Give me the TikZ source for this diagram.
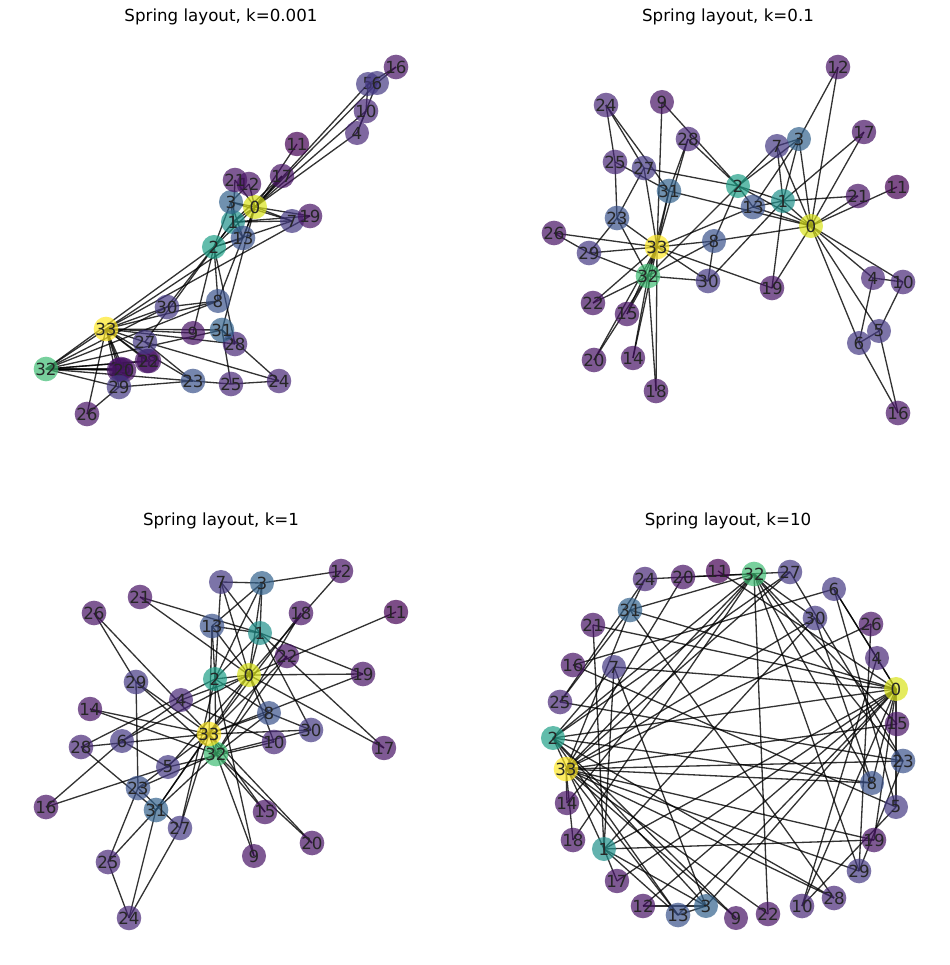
\documentclass[tikz,border=0pt]{standalone}
\usepackage{fontspec}
\setmainfont{DejaVu Sans}
\usepackage{tikz}
\usetikzlibrary{backgrounds}
\usepackage{xcolor}

% viridis shades, one per degree
\definecolor{vA}{HTML}{440154}
\definecolor{vB}{HTML}{471365}
\definecolor{vC}{HTML}{482878}
\definecolor{vD}{HTML}{443983}
\definecolor{vE}{HTML}{3B528B}
\definecolor{vF}{HTML}{33638D}
\definecolor{vG}{HTML}{21918C}
\definecolor{vH}{HTML}{1FA088}
\definecolor{vI}{HTML}{3FBC73}
\definecolor{vJ}{HTML}{D8E219}
\definecolor{vK}{HTML}{FDE725}

\colorlet{c0}{vJ}\colorlet{c1}{vG}\colorlet{c2}{vH}\colorlet{c3}{vF}
\colorlet{c4}{vC}\colorlet{c5}{vD}\colorlet{c6}{vD}\colorlet{c7}{vD}
\colorlet{c8}{vE}\colorlet{c9}{vB}\colorlet{c10}{vC}\colorlet{c11}{vA}
\colorlet{c12}{vB}\colorlet{c13}{vE}\colorlet{c14}{vB}\colorlet{c15}{vB}
\colorlet{c16}{vB}\colorlet{c17}{vB}\colorlet{c18}{vB}\colorlet{c19}{vB}
\colorlet{c20}{vB}\colorlet{c21}{vB}\colorlet{c22}{vB}\colorlet{c23}{vE}
\colorlet{c24}{vC}\colorlet{c25}{vC}\colorlet{c26}{vB}\colorlet{c27}{vD}
\colorlet{c28}{vC}\colorlet{c29}{vD}\colorlet{c30}{vD}\colorlet{c31}{vF}
\colorlet{c32}{vI}\colorlet{c33}{vK}

% karate club edges
\def\clubedges{0/1,0/2,0/3,0/4,0/5,0/6,0/7,0/8,0/10,0/11,0/12,0/13,0/17,0/19,0/21,0/31,
1/2,1/3,1/7,1/13,1/17,1/19,1/21,1/30,
2/3,2/7,2/8,2/9,2/13,2/27,2/28,2/32,
3/7,3/12,3/13,4/6,4/10,5/6,5/10,5/16,6/16,
8/30,8/32,8/33,9/33,13/33,14/32,14/33,15/32,15/33,18/32,18/33,19/33,
20/32,20/33,22/32,22/33,23/25,23/27,23/29,23/32,23/33,
24/25,24/27,24/31,25/31,26/29,26/33,27/33,28/31,28/33,
29/32,29/33,30/32,30/33,31/32,31/33,32/33}

\begin{document}
\begin{tikzpicture}[
  x=0.72pt, y=-0.72pt,
  % graph vertices
  vtx/.style={
    circle, draw=none, minimum size=17.3pt, inner sep=0pt,
    fill opacity=0.7, text opacity=1, text=black!85,
    font=\fontsize{12}{12}\selectfont
  },
  % graph edges
  edge/.style={line width=0.95pt, draw=black, draw opacity=0.8},
  % panel titles
  ptitle/.style={font=\fontsize{12}{14}\selectfont, inner sep=0pt}
]
\useasboundingbox (0,0) rectangle (950,965);

% === TITLES ===
\node[ptitle] (t1) at (221,17) {Spring layout, k=0.001};
\node[ptitle] (t2) at (728,17) {Spring layout, k=0.1};
\node[ptitle] (t3) at (221,521) {Spring layout, k=1};
\node[ptitle] (t4) at (728,521) {Spring layout, k=10};

% === k=0.001 ===
\foreach \i/\x/\y in {0/255/207,1/233/222,2/214/247,3/231/202,4/357/133,5/368/84,
  6/377/83,7/292/221,8/218/301,9/193/333,10/366/111,11/297/144,12/249/184,
  13/243/238,14/119/370,15/121/369,16/396/67,17/282/176,18/147/361,19/310/216,
  20/124/370,21/235/180,22/149/361,23/193/381,24/279/381,25/231/384,26/87/414,
  27/145/342,28/235/344,29/119/387,30/167/307,31/222/330,32/46/369,33/106/329}
  \node[vtx, fill=c\i] (a\i) at (\x,\y) {\i};

% === k=0.1 ===
\foreach \i/\x/\y in {0/811/226,1/783/201,2/738/186,3/799/139,4/873/278,5/879/331,
  6/859/343,7/777/146,8/714/241,9/662/102,10/903/282,11/897/187,12/838/67,
  13/753/207,14/633/358,15/627/314,16/898/413,17/864/132,18/656/391,19/772/288,
  20/594/360,21/858/196,22/593/303,23/617/218,24/606/105,25/615/162,26/554/233,
  27/644/168,28/688/139,29/589/253,30/708/281,31/669/191,32/648/276,33/657/247}
  \node[vtx, fill=c\i] (b\i) at (\x,\y) {\i};

% === k=1 ===
\foreach \i/\x/\y in {0/249/675,1/260/633,2/215/679,3/262/583,4/181/700,5/168/767,
  6/122/741,7/221/582,8/269/713,9/254/856,10/274/742,11/396/612,12/341/571,
  13/212/626,14/90/709,15/265/812,16/46/807,17/384/748,18/301/613,19/363/674,
  20/312/843,21/140/597,22/287/656,23/138/788,24/129/918,25/108/862,26/94/613,
  27/180/828,28/81/747,29/136/682,30/311/730,31/156/810,32/216/754,33/209/734}
  \node[vtx, fill=c\i] (c\i) at (\x,\y) {\i};

% === k=10 ===
\foreach \i/\x/\y in {0/896/689,1/604/849,2/553/738,3/706/906,4/877/658,5/896/807,
  6/834/589,7/614/667,8/872/783,9/736/918,10/802/906,11/718/571,12/643/906,
  13/678/915,14/567/803,15/897/724,16/573/665,17/617/881,18/573/840,19/874/840,
  20/683/577,21/593/625,22/768/914,23/903/761,24/645/579,25/560/702,26/871/624,
  27/790/572,28/834/898,29/859/871,30/815/618,31/630/610,32/754/574,33/566/769}
  \node[vtx, fill=c\i] (d\i) at (\x,\y) {\i};

% === EDGES (BACKGROUND) ===
\begin{scope}[on background layer]
  \foreach \p in {a,b,c,d}
    \foreach \u/\v in \clubedges
      \draw[edge] (\p\u.center) -- (\p\v.center);
\end{scope}

\end{tikzpicture}
\end{document}
